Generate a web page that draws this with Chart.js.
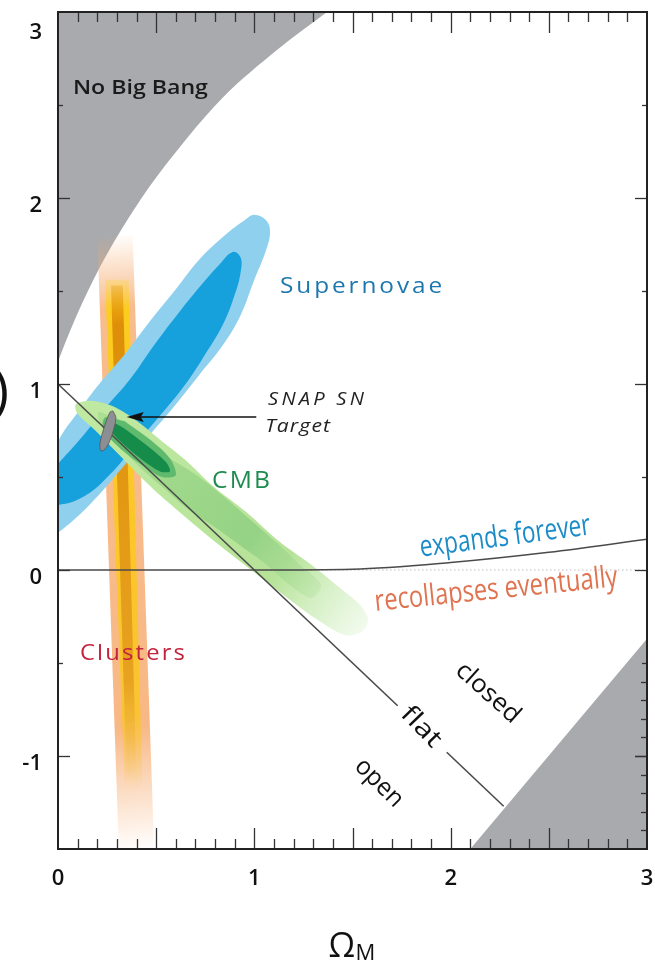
<!DOCTYPE html>
<html>
<head>
<meta charset="utf-8">
<script src="https://cdn.jsdelivr.net/npm/chart.js@4.4.1/dist/chart.umd.min.js"></script>
<style>
  html, body { margin: 0; padding: 0; background: #fff; }
</style>
</head>
<body>
<canvas id="demo" width="655" height="962"></canvas>
<script>
// tick labels
const xTickValues = [0, 1, 2, 3];
const xTickLabels = ["0", "1", "2", "3"];
const yTickValues = [-1, 0, 1, 2, 3];
const yTickLabels = ["-1", "0", "1", "2", "3"];

// everything below is [Omega_M, Omega_Lambda]
const noBigBangEdge = [[0, 1.12], [0.04, 1.23], [0.13, 1.45], [0.24, 1.68], [0.42, 1.99], [0.58, 2.22],
  [0.83, 2.53], [1.12, 2.80], [1.37, 3.0]];
const noBounceEdge = [[2.10, -1.5], [3.0, -0.37]];

const flatLineA = [[0, 1], [1.73, -0.73]];
const flatLineB = [[1.98, -0.98], [2.27, -1.27]];
const expandsCurve = [[0, 0], [1.0, 0], [1.5, 0.004], [2.0, 0.04], [2.5, 0.095], [3.0, 0.165]];
const zeroDotted = [[1.0, 0], [3.0, 0]];

const snOuter = [[0.47, 0.73], [0.32, 0.54], [0.16, 0.35], [0, 0.20], [-0.07, 0.16], [-0.12, 0.27],
  [-0.09, 0.43], [0, 0.69], [0.11, 0.86], [0.21, 1.00], [0.34, 1.16], [0.47, 1.34], [0.60, 1.51],
  [0.72, 1.67], [0.85, 1.80], [0.95, 1.88], [1.00, 1.91], [1.06, 1.88], [1.08, 1.82], [1.06, 1.72],
  [1.00, 1.56], [0.93, 1.37], [0.84, 1.21], [0.72, 1.05], [0.60, 0.89]];
const snInner = [[0.39, 0.67], [0.27, 0.52], [0.14, 0.40], [0, 0.35], [-0.07, 0.38], [-0.07, 0.48],
  [0, 0.57], [0.11, 0.70], [0.24, 0.87], [0.37, 1.03], [0.49, 1.21], [0.62, 1.39], [0.72, 1.52],
  [0.82, 1.64], [0.89, 1.71], [0.93, 1.68], [0.93, 1.60], [0.90, 1.48], [0.84, 1.32], [0.75, 1.16],
  [0.65, 1.00], [0.52, 0.83]];

const clusterOuter = [[0.20, 1.80], [0.38, 1.80], [0.49, -1.5], [0.31, -1.5]];
const clusterBand = [[0.24, 1.56], [0.36, 1.56], [0.43, -1.18], [0.34, -1.18]];
const clusterCore = [[0.27, 1.53], [0.33, 1.53], [0.40, -1.13], [0.35, -1.13]];

const cmbOuter = [[0.52, 0.70], [0.65, 0.59], [0.79, 0.45], [0.96, 0.31], [1.13, 0.15], [1.30, 0.02],
  [1.44, -0.10], [1.54, -0.19], [1.58, -0.27], [1.55, -0.33], [1.46, -0.35], [1.31, -0.26],
  [1.13, -0.12], [0.96, 0.02], [0.79, 0.16], [0.62, 0.31], [0.47, 0.45], [0.32, 0.61], [0.19, 0.75],
  [0.10, 0.84], [0.09, 0.89], [0.17, 0.91], [0.28, 0.88], [0.39, 0.81]];
const cmbMid = [[0.47, 0.67], [0.60, 0.58], [0.72, 0.50], [0.85, 0.39], [0.98, 0.27], [1.11, 0.15],
  [1.23, 0.03], [1.34, -0.08], [1.29, -0.15], [1.18, -0.08], [1.06, 0.03], [0.93, 0.13], [0.80, 0.23],
  [0.67, 0.32], [0.55, 0.43], [0.42, 0.55], [0.31, 0.67], [0.21, 0.80], [0.21, 0.85], [0.34, 0.78]];
const cmbRing = [[0.34, 0.80], [0.47, 0.70], [0.57, 0.60], [0.60, 0.51], [0.53, 0.50], [0.42, 0.57],
  [0.31, 0.66], [0.23, 0.76], [0.24, 0.82]];
const cmbCore = [[0.34, 0.76], [0.44, 0.68], [0.55, 0.58], [0.57, 0.53], [0.52, 0.53], [0.42, 0.60],
  [0.32, 0.69], [0.27, 0.75], [0.28, 0.79]];

const snapTarget = [[0.28, 0.855], [0.295, 0.817], [0.275, 0.726], [0.245, 0.656], [0.219, 0.640],
  [0.214, 0.683], [0.239, 0.780], [0.265, 0.849]];
const snapArrow = [[1.01, 0.823], [0.35, 0.823]];

const GRAY = "rgb(168,170,173)";

function pts(arr) { return arr.map(([x, y]) => ({ x, y })); }
function loop(arr) { const p = pts(arr); p.push({ ...p[0] }); return p; }

// gradient along a direction given in data space
function gradient(from, to, stops) {
  return (c) => {
    const { chart } = c;
    if (!chart.chartArea) return stops[1][1];
    const { x, y } = chart.scales;
    const g = chart.ctx.createLinearGradient(
      x.getPixelForValue(from[0]), y.getPixelForValue(from[1]),
      x.getPixelForValue(to[0]), y.getPixelForValue(to[1]));
    stops.forEach(([o, col]) => g.addColorStop(o, col));
    return g;
  };
}
function highest(arr) { return arr.reduce((a, b) => (b[1] > a[1] ? b : a)); }
function lowest(arr) { return arr.reduce((a, b) => (b[1] < a[1] ? b : a)); }
function rightmost(arr) { return arr.reduce((a, b) => (b[0] > a[0] ? b : a)); }

const peach = "246,172,112";
const layers = [
  { data: pts(noBigBangEdge), fill: "end", backgroundColor: GRAY, cubicInterpolationMode: "monotone" },
  { data: pts(noBounceEdge), fill: "start", backgroundColor: GRAY },
  { data: loop(clusterOuter), fill: "shape",
    backgroundColor: gradient(highest(clusterOuter), lowest(clusterOuter),
      [[0, `rgba(${peach},0)`], [0.12, `rgba(${peach},0.8)`], [0.8, `rgba(${peach},0.85)`], [1, `rgba(${peach},0)`]]) },
  { data: loop(clusterBand), fill: "shape",
    backgroundColor: gradient(highest(clusterBand), lowest(clusterBand),
      [[0, "rgba(252,214,90,0.4)"], [0.06, "rgba(252,204,30,1)"], [0.85, "rgba(250,196,40,0.9)"], [1, "rgba(250,200,80,0)"]]) },
  { data: loop(clusterCore), fill: "shape",
    backgroundColor: gradient(highest(clusterCore), lowest(clusterCore),
      [[0, "rgba(228,150,10,0.3)"], [0.08, "rgba(222,142,8,1)"], [0.8, "rgba(228,156,30,0.85)"], [1, "rgba(240,190,80,0)"]]) },
  { data: loop(snOuter), fill: "shape", backgroundColor: "rgb(143,208,238)", tension: 0.4 },
  { data: loop(snInner), fill: "shape", backgroundColor: "rgb(22,160,220)", tension: 0.4 },
  { data: loop(cmbOuter), fill: "shape", tension: 0.3,
    backgroundColor: gradient(cmbOuter[cmbOuter.length - 4], rightmost(cmbOuter),
      [[0, "rgb(192,233,162)"], [0.72, "rgb(182,227,152)"], [1, "rgba(200,236,180,0.25)"]]) },
  { data: loop(cmbMid), fill: "shape", tension: 0.3,
    backgroundColor: gradient(cmbMid[cmbMid.length - 2], rightmost(cmbMid),
      [[0, "rgba(150,212,130,0.5)"], [0.7, "rgba(140,206,128,0.8)"], [1, "rgba(170,220,150,0.3)"]]) },
  { data: loop(cmbRing), fill: "shape", backgroundColor: "rgb(95,186,110)", tension: 0.3 },
  { data: loop(cmbCore), fill: "shape", backgroundColor: "rgb(22,140,75)", tension: 0.3 },
  { data: pts(zeroDotted), borderColor: "#9a9a9a", borderWidth: 1, borderDash: [1, 3] },
  { data: pts(expandsCurve), borderColor: "#4a4a4a", borderWidth: 1.5, cubicInterpolationMode: "monotone" },
  { data: pts(flatLineA), borderColor: "#4a4a4a", borderWidth: 1.6 },
  { data: pts(flatLineB), borderColor: "#4a4a4a", borderWidth: 1.6 },
  { data: loop(snapTarget), fill: "shape", backgroundColor: "rgb(140,142,145)", borderColor: "#555", borderWidth: 0.8, tension: 0.3 },
];

const datasets = layers.map((d, i) => ({
  showLine: true,
  pointRadius: 0,
  borderWidth: 0,
  fill: false,
  tension: 0,
  ...d,
  order: layers.length - i,
}));

// text annotations, anchored in data space
const notes = [
  { text: "No Big Bang", x: 0.076, y: 2.59, align: "left", size: 20, weight: "600", color: "#1a1a1a", width: 135 },
  { text: "Supernovae", x: 1.131, y: 1.522, align: "left", size: 21, color: "#1c77ae", width: 165, spacing: 2.5 },
  { text: "SNAP SN", x: 1.07, y: 0.914, align: "left", size: 19, style: "italic", color: "#222", width: 99, spacing: 3 },
  { text: "Target", x: 1.055, y: 0.769, align: "left", size: 19, style: "italic", color: "#222", width: 66, spacing: 1 },
  { text: "CMB", x: 0.785, y: 0.478, align: "left", size: 23, color: "#1e8c50", width: 60, spacing: 2 },
  { text: "Clusters", x: 0.112, y: -0.452, align: "left", size: 22, color: "#c4233c", width: 107, spacing: 2 },
  { text: "expands forever", x: 2.277, y: 0.177, align: "center", angle: -7.5, size: 30, color: "#1c8cc8", width: 172 },
  { text: "recollapses eventually", x: 2.231, y: -0.108, align: "center", angle: -5.8, size: 30, color: "#e07350", width: 244 },
  { text: "closed", x: 2.19, y: -0.661, align: "center", angle: 42, size: 25, color: "#111", width: 78 },
  { text: "flat", x: 1.849, y: -0.844, align: "center", angle: 46, size: 25, color: "#111", width: 47 },
  { text: "open", x: 1.635, y: -1.145, align: "center", angle: 45, size: 25, color: "#111", width: 58 },
];

const FONT = "'Open Sans', 'DejaVu Sans', sans-serif";

const decorations = {
  id: "decorations",
  afterDraw(chart) {
    const { ctx, chartArea: a, scales: { x, y } } = chart;
    ctx.save();

    // arrow to the SNAP target
    const [p0, p1] = snapArrow.map(([u, v]) => [x.getPixelForValue(u), y.getPixelForValue(v)]);
    ctx.strokeStyle = "#111";
    ctx.fillStyle = "#111";
    ctx.lineWidth = 1.5;
    ctx.beginPath();
    ctx.moveTo(p0[0], p0[1]);
    ctx.lineTo(p1[0] + 12, p1[1]);
    ctx.stroke();
    ctx.beginPath();
    ctx.moveTo(p1[0], p1[1]);
    ctx.lineTo(p1[0] + 17, p1[1] - 5);
    ctx.lineTo(p1[0] + 14, p1[1]);
    ctx.lineTo(p1[0] + 17, p1[1] + 5);
    ctx.closePath();
    ctx.fill();

    // ticks
    ctx.strokeStyle = "#333";
    ctx.lineWidth = 1.3;
    const seg = (x0, y0, x1, y1) => { ctx.beginPath(); ctx.moveTo(x0, y0); ctx.lineTo(x1, y1); ctx.stroke(); };
    for (let i = 1; i < 30; i++) {
      const px = Math.round(x.getPixelForValue(i / 10)) + 0.5;
      const len = i % 5 === 0 ? 21 : 10;
      seg(px, a.bottom, px, a.bottom - len);
      seg(px, a.top, px, a.top + len);
    }
    for (let i = -2; i < 6; i++) {
      const py = Math.round(y.getPixelForValue(i / 2)) + 0.5;
      const len = i % 2 === 0 ? 12 : 5;
      seg(a.left, py, a.left + len, py);
      seg(a.right, py, a.right - len, py);
    }
    for (let i = -14; i <= -6; i++) {
      const py = Math.round(y.getPixelForValue(i / 10)) + 0.5;
      seg(a.right, py, a.right - (i === -10 ? 12 : 6), py);
    }

    // frame
    ctx.strokeStyle = "#222";
    ctx.lineWidth = 2;
    ctx.strokeRect(a.left, a.top, a.right - a.left, a.bottom - a.top);

    // annotations
    ctx.textBaseline = "middle";
    for (const n of notes) {
      ctx.save();
      ctx.font = `${n.style || "normal"} ${n.weight || "normal"} ${n.size}px ${FONT}`;
      ctx.letterSpacing = (n.spacing || 0) + "px";
      ctx.fillStyle = n.color;
      ctx.textAlign = n.align;
      const w = ctx.measureText(n.text).width;
      ctx.translate(x.getPixelForValue(n.x), y.getPixelForValue(n.y));
      if (n.angle) ctx.rotate(n.angle * Math.PI / 180);
      ctx.scale(n.width / w, 1);
      ctx.fillText(n.text, 0, 0);
      ctx.restore();
    }

    // axis titles
    ctx.fillStyle = "#111";
    ctx.textBaseline = "alphabetic";
    ctx.textAlign = "left";
    const cx = x.getPixelForValue(1.5);
    ctx.font = `normal 34px ${FONT}`;
    ctx.fillText("\u03A9", cx - 24, 957);
    ctx.font = `normal 22px ${FONT}`;
    ctx.fillText("M", cx + 3, 960);
    ctx.font = `normal 54px ${FONT}`;
    ctx.textAlign = "right";
    ctx.textBaseline = "middle";
    ctx.fillText(")", 9, y.getPixelForValue(0.95));
    ctx.restore();
  },
};

const tickFont = { family: FONT, size: 22, weight: "600" };

new Chart(document.getElementById("demo").getContext("2d"), {
  type: "scatter",
  data: { datasets },
  options: {
    responsive: false,
    animation: false,
    events: [],
    layout: { padding: { top: 12, right: 8, left: 0, bottom: 0 } },
    plugins: { legend: { display: false }, tooltip: { enabled: false } },
    scales: {
      x: {
        type: "linear", min: 0, max: 3,
        grid: { display: false, drawTicks: false },
        border: { display: false },
        ticks: {
          padding: 17, color: "#111", font: tickFont, maxRotation: 0, autoSkip: false,
          callback: (v) => xTickLabels[xTickValues.indexOf(v)],
        },
        afterBuildTicks: (s) => { s.ticks = xTickValues.map((v) => ({ value: v })); },
        afterFit: (s) => { s.height = 113; s.paddingLeft = 0; s.paddingRight = 0; },
      },
      y: {
        type: "linear", min: -1.5, max: 3,
        grid: { display: false, drawTicks: false },
        border: { display: false },
        ticks: {
          padding: 16, labelOffset: 8, color: "#111", font: tickFont, autoSkip: false,
          // the top label sits a little lower in the original, push it down one half line
          callback: (v) => {
            const label = yTickLabels[yTickValues.indexOf(v)];
            return v === yTickValues[yTickValues.length - 1] ? ["", label] : label;
          },
        },
        afterBuildTicks: (s) => { s.ticks = yTickValues.map((v) => ({ value: v })); },
        afterFit: (s) => { s.width = 58; s.paddingTop = 0; s.paddingBottom = 0; },
      },
    },
  },
  plugins: [decorations],
});
</script>
</body>
</html>
